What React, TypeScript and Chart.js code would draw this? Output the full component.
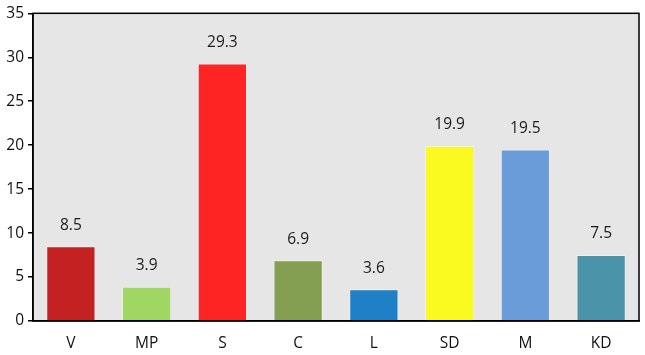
import React, { useEffect, useRef } from "react";
import { Chart, registerables } from "chart.js";

Chart.register(...registerables);

const categories = ["V", "MP", "S", "C", "L", "SD", "M", "KD"];
const values = [8.5, 3.9, 29.3, 6.9, 3.6, 19.9, 19.5, 7.5];
const barColors = ["#c42222", "#a0d662", "#fe2424", "#849f52", "#1f80c8", "#fafa20", "#699cd9", "#4a93a8"];
const yTicks = [0, 5, 10, 15, 20, 25, 30, 35];

const FONT = "'Open Sans', 'Noto Sans', sans-serif";

const areaPlugin = {
  id: "areaPlugin",
  beforeDraw(chart: any) {
    const { ctx, chartArea } = chart;
    ctx.save();
    ctx.fillStyle = "#e6e6e6";
    ctx.fillRect(chartArea.left, chartArea.top, chartArea.right - chartArea.left, chartArea.bottom - chartArea.top);
    ctx.restore();
  },
  afterDraw(chart: any) {
    const { ctx, chartArea } = chart;
    ctx.save();
    ctx.strokeStyle = "#000";
    ctx.lineWidth = 1.5;
    ctx.strokeRect(chartArea.left, chartArea.top, chartArea.right - chartArea.left, chartArea.bottom - chartArea.top);
    const meta = chart.getDatasetMeta(0);
    ctx.fillStyle = "#1a1a1a";
    ctx.font = `15.5px ${FONT}`;
    ctx.textAlign = "center";
    ctx.textBaseline = "middle";
    meta.data.forEach((bar: any, i: number) => {
      ctx.fillText(String(values[i]), bar.x, bar.y - 21);
    });
    ctx.restore();
  },
};

export default function App() {
  const ref = useRef<HTMLCanvasElement>(null);
  useEffect(() => {
    document.body.style.margin = "0";
    const chart = new Chart(ref.current!, {
      type: "bar",
      data: {
        labels: categories,
        datasets: [
          {
            data: values,
            backgroundColor: barColors,
            borderColor: "rgba(255,255,255,0.35)",
            borderWidth: 1,
            categoryPercentage: 0.65,
            barPercentage: 1,
          },
        ],
      },
      options: {
        animation: false,
        responsive: false,
        layout: { padding: { top: 13, right: 6, left: 0, bottom: 0 } },
        plugins: { legend: { display: false }, tooltip: { enabled: false } },
        scales: {
          x: {
            grid: { display: false, drawTicks: false },
            border: { display: true, color: "#000", width: 1.5 },
            ticks: { color: "#111", font: { family: FONT, size: 15.5 }, padding: 13 },
            afterFit(scale: any) {
              scale.height = 34;
            },
          },
          y: {
            min: 0,
            max: 35,
            afterBuildTicks(scale: any) {
              scale.ticks = yTicks.map((v) => ({ value: v }));
            },
            grid: { display: true, drawOnChartArea: false, drawTicks: true, tickLength: 5, color: "#000", lineWidth: 1.5 },
            border: { display: true, color: "#000", width: 1.5 },
            ticks: { color: "#111", font: { family: FONT, size: 15.5 }, padding: 4 },
            afterFit(scale: any) {
              scale.width = 33;
            },
          },
        },
      },
      plugins: [areaPlugin],
    });
    return () => chart.destroy();
  }, []);
  return <canvas ref={ref} width={645} height={355} style={{ display: "block" }} />;
}
